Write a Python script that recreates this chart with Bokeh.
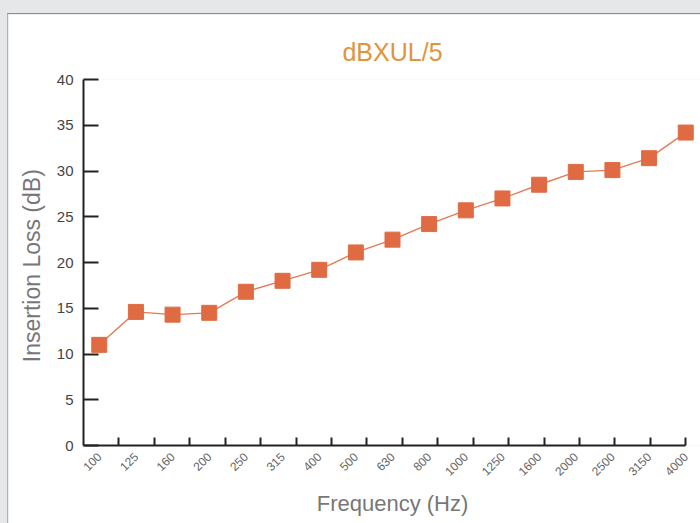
import math
from bokeh.plotting import figure
from bokeh.layouts import column
from bokeh.models import Range1d, FixedTicker
from bokeh.embed import file_html
from bokeh.resources import INLINE

frequencies = ["100", "125", "160", "200", "250", "315", "400", "500", "630",
               "800", "1000", "1250", "1600", "2000", "2500", "3150", "4000"]
insertion_loss = [11.0, 14.6, 14.3, 14.5, 16.8, 18.0, 19.2, 21.1, 22.5,
                  24.2, 25.7, 27.0, 28.5, 29.9, 30.1, 31.4, 34.2]
y_ticks = [0, 5, 10, 15, 20, 25, 30, 35, 40]

title_text = "dBXUL/5"
x_label = "Frequency (Hz)"
y_label = "Insertion Loss  (dB)"

FONT = "Liberation Sans"
MARK = "#E06B42"
n = len(frequencies)
idx = list(range(n))

x_start, x_end = -0.43, (n - 1) + 0.43
axis_end = n - 1

fig = figure(width=692, height=509, output_backend="svg", toolbar_location=None,
             x_range=Range1d(x_start, x_end), y_range=Range1d(0, 40),
             min_border_left=75, min_border_right=0, min_border_top=65,
             min_border_bottom=79)
fig.frame_width = 617
fig.frame_height = 365

fig.background_fill_color = "white"
fig.border_fill_color = "white"
fig.outline_line_color = None
fig.grid.grid_line_color = None
fig.styles = {"border-top": "1px solid #8E8E8E", "border-left": "1px solid #B0B0B0"}

fig.title.text = title_text
fig.title.align = "center"
fig.title.text_font = FONT
fig.title.text_font_size = "25px"
fig.title.text_font_style = "normal"
fig.title.text_color = "#E0953A"
fig.title.offset = 0
fig.title.standoff = 27

fig.line(idx, insertion_loss, line_color=MARK, line_width=1.4, line_alpha=0.9)
fig.scatter(idx, insertion_loss, marker="square", size=15,
            fill_color=MARK, line_color=MARK)

# x axis
xa = fig.xaxis[0]
minor = [x_start + (axis_end - x_start) * (k + 1) / n for k in range(n)]
xa.ticker = FixedTicker(ticks=idx, minor_ticks=minor)
xa.major_label_overrides = {i: f for i, f in enumerate(frequencies)}
xa.bounds = (x_start, axis_end)
xa.major_tick_line_color = None
xa.major_tick_in = 0
xa.major_tick_out = 0
xa.minor_tick_line_color = "#222222"
xa.minor_tick_line_width = 2
xa.minor_tick_in = 8
xa.minor_tick_out = 0
xa.axis_line_color = "#222222"
xa.axis_line_width = 2
xa.major_label_orientation = math.pi / 4
xa.major_label_text_font = FONT
xa.major_label_text_font_size = "12px"
xa.major_label_text_color = "#666666"
xa.major_label_standoff = 9
xa.axis_label = x_label
xa.axis_label_text_font = FONT
xa.axis_label_text_font_size = "22px"
xa.axis_label_text_font_style = "normal"
xa.axis_label_text_color = "#777777"
xa.axis_label_standoff = 8

# y axis
ya = fig.yaxis[0]
ya.ticker = FixedTicker(ticks=y_ticks)
ya.bounds = (0, 40)
ya.major_tick_line_color = "#222222"
ya.major_tick_line_width = 2
ya.major_tick_in = 15
ya.major_tick_out = 0
ya.minor_tick_line_color = None
ya.axis_line_color = "#222222"
ya.axis_line_width = 2
ya.major_label_text_font = FONT
ya.major_label_text_font_size = "15px"
ya.major_label_text_color = "#444444"
ya.major_label_standoff = 10
ya.axis_label = y_label
ya.axis_label_text_font = FONT
ya.axis_label_text_font_size = "23px"
ya.axis_label_text_font_style = "normal"
ya.axis_label_text_color = "#777777"
ya.axis_label_standoff = 9

p = column(fig, styles={"background-color": "#E6E7E9",
                        "padding-top": "13px", "padding-left": "7px"})

open("out.html", "w").write(file_html(p, INLINE))
